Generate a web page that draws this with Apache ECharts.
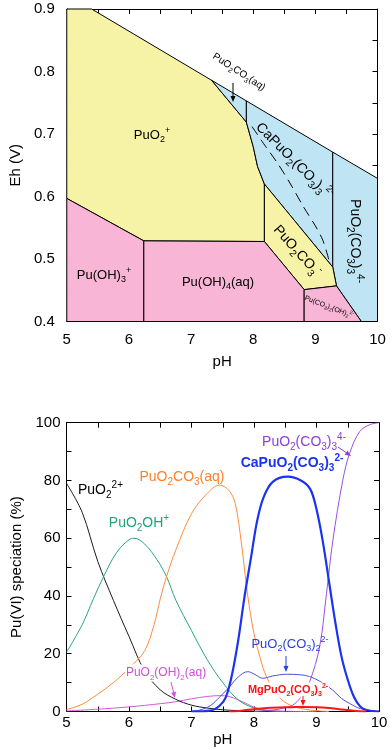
<!DOCTYPE html>
<html>
<head>
<meta charset="utf-8">
<script src="https://cdn.jsdelivr.net/npm/echarts@6/dist/echarts.min.js"></script>
<style>
  html, body { margin: 0; padding: 0; background: #fff; }
  #main { width: 392px; height: 750px; }
</style>
</head>
<body>
<div id="main"></div>
<script>
const FONT = 'Liberation Sans, Arial, sans-serif'

// ---- Eh-pH diagram, region outlines as [pH, Eh] ----
const regPuO2 = [[5, 0.9], [5.4, 0.9], [7.33, 0.786], [7.89, 0.719], [8.0, 0.68], [8.07, 0.648], [8.18, 0.62], [8.18, 0.528], [6.24, 0.529], [5, 0.597]]
const regPuO2CO3aq = [[7.33, 0.786], [7.89, 0.753], [7.89, 0.719]]
const regCaPuO2CO3 = [[7.89, 0.753], [9.28, 0.671], [9.28, 0.487], [8.18, 0.62], [8.07, 0.648], [8.0, 0.68], [7.89, 0.719]]
const regPuO2CO33 = [[9.28, 0.671], [10, 0.629], [10, 0.4], [9.74, 0.4], [9.34, 0.457], [9.28, 0.487]]
const regPuO2CO3m = [[8.18, 0.62], [9.28, 0.487], [9.34, 0.457], [8.82, 0.451], [8.18, 0.528]]
const regPuOH3 = [[5, 0.4], [5, 0.597], [6.24, 0.529], [6.24, 0.4]]
const regPuOH4 = [[6.24, 0.4], [6.24, 0.529], [8.18, 0.528], [8.82, 0.451], [8.82, 0.4]]
const regPuCO3OH = [[8.82, 0.4], [8.82, 0.451], [9.34, 0.457], [9.74, 0.4]]
const dashCa = [[7.98, 0.712], [8.2, 0.68], [8.38, 0.655], [8.6, 0.62], [8.8, 0.585], [9.0, 0.553], [9.12, 0.53], [9.22, 0.498]]

// ---- Pu(VI) speciation, [pH, %] ----
const sPuO2 = [[5, 79], [5.25, 69], [5.5, 52], [5.75, 38.5], [6, 26], [6.25, 14], [6.5, 7.5], [6.75, 4.2], [7, 2.2], [7.25, 1.2], [7.5, 0.6], [7.75, 0.3], [8, 0.1], [8.5, 0]]
const sPuO2OH = [[5, 20.5], [5.25, 30], [5.43, 39], [5.6, 47], [5.8, 55], [6, 59.5], [6.08, 60], [6.25, 58], [6.45, 52.5], [6.6, 46.7], [6.75, 38.5], [7, 28], [7.25, 18], [7.5, 10], [7.75, 4], [8, 1.2], [8.25, 0.2], [8.5, 0]]
const sPuO2CO3 = [[5, 0.7], [5.25, 2.5], [5.5, 6], [5.75, 10], [6, 15], [6.25, 21], [6.4, 30], [6.5, 39], [6.6, 46.7], [6.75, 56], [7, 68.5], [7.25, 75.5], [7.45, 78.4], [7.6, 76.5], [7.7, 72], [7.8, 58], [7.9, 40], [8, 27], [8.1, 18.5], [8.2, 12], [8.4, 5], [8.6, 2], [8.9, 0.5], [9.2, 0]]
const sCaPuO2 = [[7, 0], [7.3, 0.3], [7.45, 2], [7.55, 5], [7.65, 13], [7.75, 25], [7.85, 40], [7.95, 53], [8.05, 66], [8.15, 74], [8.3, 79.5], [8.54, 81.3], [8.75, 80], [8.9, 77], [9, 70], [9.1, 59], [9.2, 45], [9.3, 31], [9.4, 19], [9.5, 11], [9.6, 5], [9.7, 1.7], [9.8, 0.5], [10, 0]]
const sPuO2CO33 = [[8, 0], [8.3, 0.5], [8.5, 1.3], [8.62, 2.2], [8.75, 5], [8.89, 10.3], [9.05, 22.4], [9.16, 40.9], [9.26, 59], [9.42, 80], [9.53, 89.4], [9.69, 96.9], [9.85, 99.3], [10, 100]]
const sPuO2CO32 = [[7, 0.1], [7.13, 0.5], [7.3, 2], [7.45, 5], [7.61, 8.6], [7.75, 12], [7.9, 13.8], [8, 13], [8.14, 11.5], [8.3, 12.3], [8.52, 12.9], [8.75, 12.7], [8.89, 12.1], [9.05, 10.5], [9.26, 7.4], [9.4, 4.5], [9.53, 2.8], [9.7, 1], [10, 0]]
const sPuO2OH2 = [[5, 0.2], [5.5, 0.8], [6, 1.6], [6.5, 2.7], [6.75, 3.4], [7, 4.4], [7.25, 5.2], [7.45, 5.5], [7.6, 5.2], [7.75, 4], [7.9, 2.5], [8, 1.5], [8.2, 0.5], [8.5, 0.1], [9, 0]]
const sMgPuO2 = [[7.6, 0], [7.8, 0.3], [8, 0.8], [8.2, 1.2], [8.4, 1.4], [8.6, 1.5], [8.8, 1.6], [9, 1.5], [9.2, 1.2], [9.4, 0.7], [9.6, 0.3], [9.8, 0]]

const YELLOW = '#f7f3a6'
const PINK = '#f8b5d5'
const BLUE = '#bfe5f5'

function region (pts, color) {
  return {
    type: 'custom',
    xAxisIndex: 0,
    yAxisIndex: 0,
    silent: true,
    data: [pts[0]],
    renderItem: function (params, api) {
      return {
        type: 'polygon',
        shape: { points: pts.map(p => api.coord(p)) },
        style: { fill: color, stroke: '#000', lineWidth: 1 }
      }
    }
  }
}

function curve (data, color, width) {
  return {
    type: 'line',
    xAxisIndex: 2,
    yAxisIndex: 2,
    data: data,
    smooth: 0.35,
    showSymbol: false,
    silent: true,
    lineStyle: { color: color, width: width || 1 }
  }
}

// axis helpers
function xAxis (grid, pos, min, max, showLabel, name, nameGap, margin) {
  return {
    type: 'value', gridIndex: grid, position: pos, min: min, max: max, interval: 1,
    name: name || '', nameLocation: 'middle', nameGap: nameGap || 0,
    nameTextStyle: { fontSize: 15, color: '#000', fontFamily: FONT },
    axisLine: { show: true, onZero: false, lineStyle: { color: '#000', width: 1 } },
    axisTick: { show: true, inside: true, length: 5, lineStyle: { color: '#000' } },
    minorTick: { show: true, splitNumber: 2, length: 5, lineStyle: { color: '#000' } },
    axisLabel: { show: showLabel, fontSize: 15, color: '#000', fontFamily: FONT, margin: margin || 8 },
    splitLine: { show: false }
  }
}
function yAxis (grid, pos, min, max, interval, showLabel, name, nameGap, margin, fmt) {
  return {
    type: 'value', gridIndex: grid, position: pos, min: min, max: max, interval: interval,
    name: name || '', nameLocation: 'middle', nameGap: nameGap || 0, nameRotate: 90,
    nameTextStyle: { fontSize: 15, color: '#000', fontFamily: FONT },
    axisLine: { show: true, onZero: false, lineStyle: { color: '#000', width: 1 } },
    axisTick: { show: true, inside: true, length: 5, lineStyle: { color: '#000' } },
    minorTick: { show: true, splitNumber: 2, length: 5, lineStyle: { color: '#000' } },
    axisLabel: { show: showLabel, fontSize: 15, color: '#000', fontFamily: FONT, margin: margin || 8, formatter: fmt },
    splitLine: { show: false }
  }
}

// chemical formula -> rich text ("_{..}" subscript, "^{..}" superscript)
function chem (s) {
  return '{n|' + s.replace(/([_^])\{([^}]*)\}/g, function (m, k, t) {
    return '}{' + (k === '_' ? 'b' : 'p') + '|' + t + '}{n|'
  }) + '}'
}
function rich (size, color, bold) {
  const w = bold ? 'bold' : 'normal'
  const s = Math.round(size * 0.68)
  return {
    n: { fontSize: size, fill: color, fontWeight: w, fontFamily: FONT, lineHeight: Math.round(size * 1.4) },
    b: { fontSize: s, fill: color, fontWeight: w, fontFamily: FONT, lineHeight: s, verticalAlign: 'bottom' },
    p: { fontSize: s, fill: color, fontWeight: w, fontFamily: FONT, lineHeight: s, verticalAlign: 'top' }
  }
}
// rot: degrees, negative = clockwise
function label (x, y, s, size, color, opt) {
  opt = opt || {}
  const style = {
    text: chem(s), rich: rich(size, color, opt.bold), align: opt.align || 'center', verticalAlign: 'middle'
  }
  if (opt.bg) { style.backgroundColor = '#fff'; style.padding = [0, 1] }
  return { type: 'text', x: x, y: y, rotation: opt.rot ? opt.rot * Math.PI / 180 : 0, z: 100, style: style }
}
function arrow (x1, y1, x2, y2, color) {
  const a = Math.atan2(y2 - y1, x2 - x1)
  const L = 6, W = 2.5
  const bx = x2 - L * Math.cos(a), by = y2 - L * Math.sin(a)
  return [
    { type: 'line', z: 100, shape: { x1: x1, y1: y1, x2: bx, y2: by }, style: { stroke: color, lineWidth: 1 } },
    { type: 'polygon', z: 100, shape: { points: [[x2, y2], [bx + W * Math.sin(a), by - W * Math.cos(a)], [bx - W * Math.sin(a), by + W * Math.cos(a)]] }, style: { fill: color } }
  ]
}

const graphics = [
  // Eh-pH labels
  label(152, 135, 'PuO_{2}^{+}', 13, '#000'),
  label(239, 72, 'PuO_{2}CO_{3}(aq)', 10, '#000', { rot: -33 }),
  label(294, 161, 'CaPuO_{2}(CO_{3})_{3}^{2-}', 14, '#000', { rot: -45 }),
  label(355, 241, 'PuO_{2}(CO_{3})_{3}^{4-}', 14, '#000', { rot: -90 }),
  label(297, 251, 'PuO_{2}CO_{3}^{-}', 14, '#000', { rot: -48 }),
  label(104, 275, 'Pu(OH)_{3}^{+}', 13, '#000'),
  label(218, 282, 'Pu(OH)_{4}(aq)', 13, '#000'),
  label(329, 307, 'Pu(CO_{3})_{2}(OH)_{2}^{2-}', 7, '#000', { rot: -21 }),
  // speciation labels
  label(78, 490, 'PuO_{2}^{2+}', 14, '#000', { align: 'left' }),
  label(139, 523, 'PuO_{2}OH^{+}', 14, '#1fa37a'),
  label(182, 477, 'PuO_{2}CO_{3}(aq)', 14, '#ff7f2a'),
  label(292, 463, 'CaPuO_{2}(CO_{3})_{3}^{2-}', 14, '#1a33f0', { bold: true }),
  label(304, 442, 'PuO_{2}(CO_{3})_{3}^{4-}', 14, '#8e3fd6'),
  label(290, 644, 'PuO_{2}(CO_{3})_{2}^{2-}', 13, '#2a3ee0'),
  label(166, 673, 'PuO_{2}(OH)_{2}(aq)', 12, '#d04fd8', { bg: true }),
  label(288, 690, 'MgPuO_{2}(CO_{3})_{3}^{2-}', 11, '#ff1010', { bold: true, bg: true })
].concat(
  arrow(233, 83, 233, 102, '#000'),
  arrow(338, 447, 351, 456, '#8e3fd6'),
  arrow(286, 656, 286, 672, '#2a3ee0'),
  arrow(171, 682, 175, 698, '#d04fd8'),
  arrow(303, 696, 303, 706, '#ff1010')
)

const option = {
  animation: false,
  grid: [
    { left: 64, top: 9, width: 313.5, height: 312.5 },
    { left: 66.5, top: 422.7, width: 312.5, height: 288.8 }
  ],
  xAxis: [
    xAxis(0, 'bottom', 5, 10, true, 'pH', 33, 11),
    xAxis(0, 'top', 5, 10, false),
    xAxis(1, 'bottom', 5, 10, true, 'pH', 21, 4),
    xAxis(1, 'top', 5, 10, false)
  ],
  yAxis: [
    yAxis(0, 'left', 0.4, 0.9, 0.1, true, 'Eh (V)', 39, 12, v => v.toFixed(1)),
    yAxis(0, 'right', 0.4, 0.9, 0.1, false),
    yAxis(1, 'left', 0, 100, 20, true, 'Pu(VI) speciation (%)', 40, 6),
    yAxis(1, 'right', 0, 100, 20, false)
  ],
  series: [
    region(regPuO2, YELLOW),
    region(regPuO2CO3aq, BLUE),
    region(regCaPuO2CO3, BLUE),
    region(regPuO2CO33, BLUE),
    region(regPuO2CO3m, YELLOW),
    region(regPuOH3, PINK),
    region(regPuOH4, PINK),
    region(regPuCO3OH, PINK),
    {
      type: 'line', xAxisIndex: 0, yAxisIndex: 0, data: dashCa, smooth: 0.3, showSymbol: false, silent: true,
      lineStyle: { color: '#000', width: 1, type: [10, 6] }, z: 5
    },
    curve(sPuO2OH2, '#d457d8'),
    curve(sPuO2, '#1a1a1a'),
    curve(sPuO2OH, '#2aa57d'),
    curve(sPuO2CO3, '#ff8a3d'),
    curve(sPuO2CO32, '#4b50dc'),
    curve(sPuO2CO33, '#9a4fe0'),
    curve(sCaPuO2, '#1a33f0', 2.2),
    curve(sMgPuO2, '#ff1515', 2)
  ],
  graphic: graphics
}

const chart = echarts.init(document.getElementById('main'), null, { renderer: 'canvas' })
chart.setOption(option)
</script>
</body>
</html>
